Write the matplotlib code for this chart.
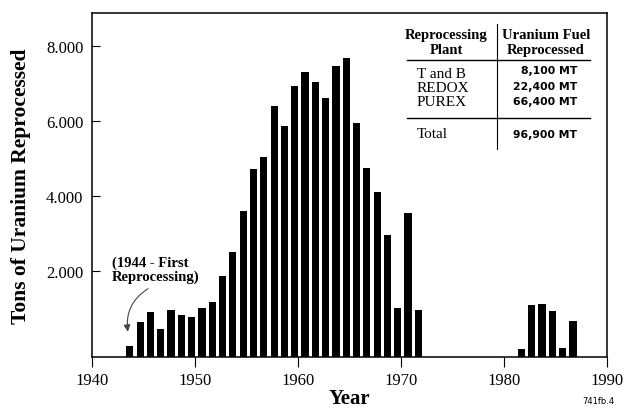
import numpy as np
import matplotlib
matplotlib.use("Agg")
import matplotlib.pyplot as plt
from matplotlib.lines import Line2D

# Uranium reprocessed per year (MT)
years = [1944, 1945, 1946, 1947, 1948, 1949, 1950, 1951, 1952, 1953,
         1954, 1955, 1956, 1957, 1958, 1959, 1960, 1961, 1962, 1963,
         1964, 1965, 1966, 1967, 1968, 1969, 1970, 1971, 1972,
         1982, 1983, 1984, 1985, 1986, 1987]
tons = [0, 620, 900, 440, 960, 820, 760, 1000, 1170, 1850,
        2490, 3580, 4710, 5040, 6380, 5870, 6930, 7290, 7040, 6610,
        7470, 7660, 5940, 4730, 4090, 2960, 1000, 3540, 950,
        -80, 1080, 1110, 930, -70, 670]

yticks = [2000, 4000, 6000, 8000]
ytick_labels = ["2.000", "4.000", "6.000", "8.000"]
xticks = [1940, 1950, 1960, 1970, 1980, 1990]

plants = ["T and B", "REDOX", "PUREX"]
plant_tons = ["8,100 MT", "22,400 MT", "66,400 MT"]
total_tons = "96,900 MT"

serif = "Liberation Serif"
sans = "DejaVu Sans"

W, H = 626, 410
fig = plt.figure(figsize=(W / 100, H / 100), dpi=100)
ax = fig.add_axes([91.7 / W, 1 - 358 / H, (607 - 91.7) / W, (358 - 14) / H])

# the drawn floor of the chart sits a bit below zero
floor = -300
ax.bar(np.array(years) - 0.3, np.array(tons) - floor, bottom=floor,
       width=0.7, color="black")

ax.set_xlim(1940, 1990)
ax.set_ylim(floor, 8870)
ax.set_xticks(xticks)
ax.set_xticklabels([str(x) for x in xticks], fontfamily=serif, fontsize=12)
ax.set_yticks(yticks)
ax.set_yticklabels(ytick_labels, fontfamily=serif, fontsize=12)
ax.tick_params(axis="y", direction="in", length=6, width=0.8, pad=6)
ax.tick_params(axis="x", direction="out", length=7, width=0.8, pad=4)
for s in ax.spines.values():
    s.set_linewidth(1.1)

ax.set_xlabel("Year", fontfamily=serif, fontweight="bold", fontsize=15, labelpad=0)
ax.set_ylabel("Tons of Uranium Reprocessed", fontfamily=serif, fontweight="bold",
              fontsize=15.5, labelpad=11)

# annotation for the first year
ax.text(1941.94, 2400, "(1944 - First\nReprocessing)", fontfamily=serif,
        fontweight="bold", fontsize=10.5, va="top", ha="left", linespacing=1.0)
ax.annotate("", xy=(1943.55, 300), xytext=(1945.7, 1560),
            arrowprops=dict(arrowstyle="-|>,head_length=0.4,head_width=0.2",
                            color="#444444", lw=0.8,
                            connectionstyle="arc3,rad=0.35"))


def px(x, y):
    return x / W, 1 - y / H


# summary table in the upper right
fig.text(*px(446, 43), "Reprocessing\nPlant", fontfamily=serif, fontweight="bold",
         fontsize=10.5, ha="center", va="center", linespacing=1.2)
fig.text(*px(546, 43), "Uranium Fuel\nReprocessed", fontfamily=serif,
         fontweight="bold", fontsize=10.5, ha="center", va="center",
         linespacing=1.2)

fig.text(*px(416.7, 88.5), "\n".join(plants), fontfamily=serif, fontsize=11,
         ha="left", va="center", linespacing=1.15)
fig.text(*px(577, 86.5), "\n".join(plant_tons), fontfamily=sans, fontweight="bold",
         fontsize=7.8, ha="right", va="center", linespacing=1.7)
fig.text(*px(416.7, 134), "Total", fontfamily=serif, fontsize=11,
         ha="left", va="center")
fig.text(*px(577, 134.5), total_tons, fontfamily=sans, fontweight="bold",
         fontsize=7.8, ha="right", va="center")

for y in [60.7, 119.3]:
    x0, y0 = px(406.7, y)
    x1, _ = px(590, y)
    fig.add_artist(Line2D([x0, x1], [y0, y0], color="black", lw=1.0))
xv, yv0 = px(496.7, 25)
_, yv1 = px(496.7, 150)
fig.add_artist(Line2D([xv, xv], [yv0, yv1], color="black", lw=0.8))

fig.text(*px(598, 402), "741fb.4", fontfamily=sans, fontsize=6,
         ha="center", va="center")

fig.savefig("out.png", dpi=100)
